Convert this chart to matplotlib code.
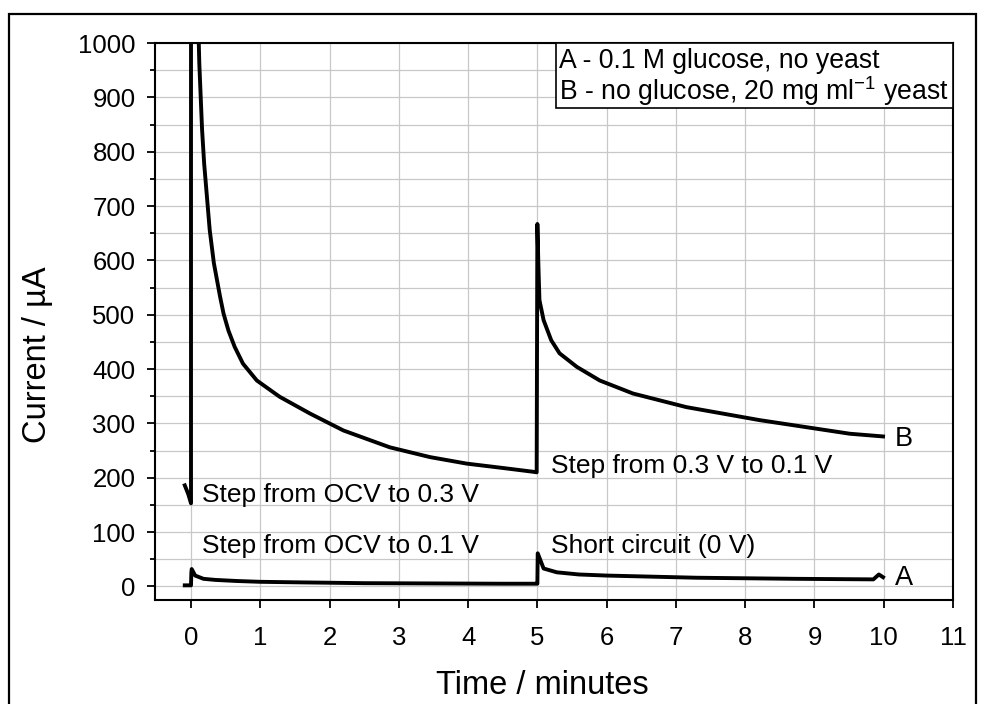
import matplotlib
matplotlib.use("Agg")
import matplotlib.pyplot as plt
from matplotlib.patches import Rectangle
from matplotlib.ticker import MultipleLocator

plt.rcParams['font.family'] = ['Liberation Sans', 'DejaVu Sans']
plt.rcParams['mathtext.fontset'] = 'custom'
plt.rcParams['mathtext.rm'] = 'Liberation Sans'
plt.rcParams['mathtext.it'] = 'Liberation Sans:italic'

# curve B: no glucose, 20 mg/ml yeast
b_time = [-0.09, -0.04, 0.0, 0.0, 0.02, 0.06, 0.10, 0.12, 0.14, 0.16, 0.19,
          0.23, 0.27, 0.33, 0.42, 0.47, 0.54, 0.63, 0.75, 0.95, 1.28, 1.72,
          2.20, 2.87, 3.45, 3.98, 4.5, 4.94, 4.99,
          5.0, 5.015, 5.03, 5.09, 5.20, 5.32, 5.57, 5.90, 6.38, 7.15, 8.21,
          9.51, 9.99]
b_curr = [186, 170, 153, 2500, 1800, 1300, 1060, 962, 901, 840, 778,
          717, 656, 595, 533, 502, 471, 441, 410, 379, 349, 318,
          287, 256, 238, 226, 218, 211, 210,
          667, 590, 527, 490, 453, 429, 404, 379, 355, 330, 306,
          281, 276]

# curve A: 0.1 M glucose, no yeast
a_time = [-0.09, 0.0, 0.005, 0.01, 0.06, 0.18, 0.35, 0.66, 1.0, 1.62, 2.5,
          3.5, 4.5, 4.99, 5.0, 5.005, 5.09, 5.28, 5.6, 6.0, 7.3, 8.74, 9.85,
          9.93, 9.99]
a_curr = [2, 2, 25, 32, 20, 14, 12, 10, 8.5, 7.4, 6,
          5.5, 5, 5, 5, 61, 33, 26, 22, 20, 16, 14, 13,
          22, 17]

x_ticks = list(range(0, 12))
y_ticks = list(range(0, 1001, 100))

fig = plt.figure(figsize=(9.84, 7.04), dpi=100)
ax = fig.add_axes([0.1575, 0.1477, 0.811, 0.7912])

ax.plot(b_time, b_curr, color='black', lw=2.8, zorder=3, solid_joinstyle='round')
ax.plot(a_time, a_curr, color='black', lw=2.8, zorder=3, solid_joinstyle='round')

ax.set_xlim(-0.52, 11)
ax.set_ylim(-25, 1000)
ax.set_xticks(x_ticks)
ax.set_yticks(y_ticks)
ax.yaxis.set_minor_locator(MultipleLocator(50))
ax.grid(True, which='major', color='#c8c8c8', lw=0.9, zorder=0)
ax.grid(True, which='minor', axis='y', color='#c8c8c8', lw=0.9, zorder=0)
ax.set_axisbelow(True)

ax.tick_params(axis='both', which='major', labelsize=18.5, length=6, width=1.3,
               direction='out', color='black')
ax.tick_params(axis='y', which='minor', length=3.5, width=1.3)
ax.tick_params(axis='x', pad=13)
ax.tick_params(axis='y', pad=8)
for sp in ax.spines.values():
    sp.set_linewidth(1.5)

ax.set_xlabel('Time / minutes', fontsize=23.5)
ax.set_ylabel('Current / µA', fontsize=23.5)
ax.xaxis.label.set_va('center')
ax.yaxis.label.set_va('center')
ax.xaxis.set_label_coords(0.485, -0.153)
ax.yaxis.set_label_coords(-0.147, 0.44)

# annotations
ax.text(0.16, 169, 'Step from OCV to 0.3 V', fontsize=19, va='center', ha='left')
ax.text(0.155, 74, 'Step from OCV to 0.1 V', fontsize=19, va='center', ha='left')
ax.text(5.19, 221, 'Step from 0.3 V to 0.1 V', fontsize=19, va='center', ha='left')
ax.text(5.19, 75, 'Short circuit (0 V)', fontsize=19, va='center', ha='left')
ax.text(10.16, 271, 'B', fontsize=19.5, va='center', ha='left')
ax.text(10.16, 15, 'A', fontsize=19.5, va='center', ha='left')

# legend box
ax.add_patch(Rectangle((0.5025, 0.883), 0.4975, 0.117, transform=ax.transAxes,
                       facecolor='white', edgecolor='black', lw=1.2, zorder=4))
ax.text(0.506, 0.968, 'A - 0.1 M glucose, no yeast', transform=ax.transAxes,
        fontsize=19.2, va='center', ha='left', zorder=5)
ax.text(0.506, 0.914, 'B - no glucose, 20 mg ml$^{-1}$ yeast', transform=ax.transAxes,
        fontsize=19.2, va='center', ha='left', zorder=5)

# outer frame
fig.patches.append(Rectangle((9 / 984, -0.05), 967 / 984, 1.05 - 14 / 704,
                             transform=fig.transFigure, fill=False,
                             edgecolor='black', lw=1.6))

fig.savefig('out.png', dpi=100)
